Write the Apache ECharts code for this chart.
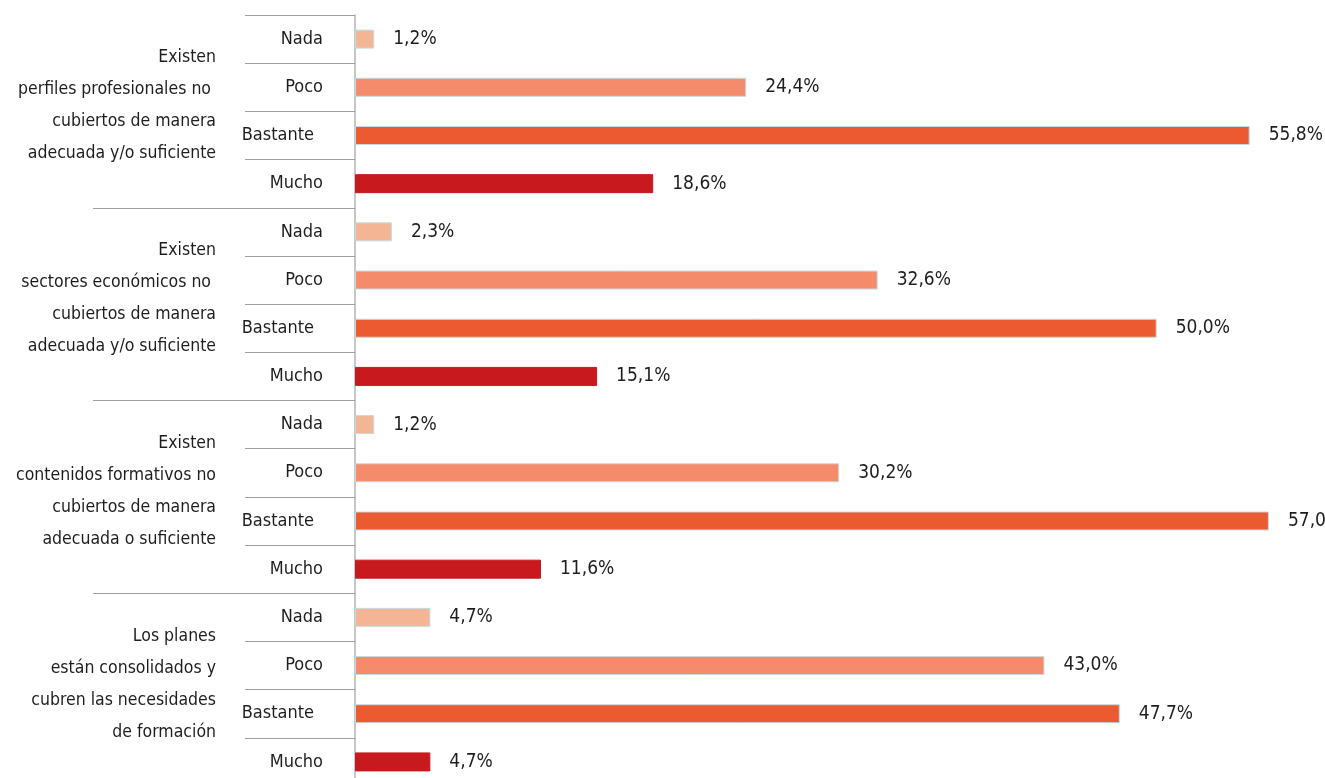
<!DOCTYPE html>
<html>
<head>
<meta charset="utf-8">
<script src="https://cdn.jsdelivr.net/npm/echarts@6/dist/echarts.min.js"></script>
<style>
html,body{margin:0;padding:0;background:#fff;}
#c{width:1325px;height:778px;}
</style>
</head>
<body>
<div id="c"></div>
<script>
// ---- data ----
const groups = [
  'Existen\nperfiles profesionales no \ncubiertos de manera\nadecuada y/o suficiente',
  'Existen\nsectores económicos no \ncubiertos de manera\nadecuada y/o suficiente',
  'Existen\ncontenidos formativos no\ncubiertos de manera\nadecuada o suficiente',
  'Los planes\nestán consolidados y\ncubren las necesidades\nde formación'
];
const levels = ['Nada', 'Poco', 'Bastante', 'Mucho'];
const perfiles   = [1.2, 24.4, 55.8, 18.6];
const sectores   = [2.3, 32.6, 50.0, 15.1];
const contenidos = [1.2, 30.2, 57.0, 11.6];
const planes     = [4.7, 43.0, 47.7, 4.7];
const levelColors = ['#f4b595', '#f48b6b', '#eb5a30', '#c8191f'];

const groupValues = [perfiles, sectores, contenidos, planes];
const FONT = "'Liberation Sans Narrow', 'DejaVu Sans Condensed', sans-serif";

const catData = [];
const barData = [];
groupValues.forEach((vals, gi) => {
  levels.forEach((lv, li) => {
    catData.push(gi + '|' + lv);
    barData.push({
      value: vals[li],
      itemStyle: {
        color: levelColors[li],
        borderColor: li < 3 ? '#c4dbe4' : levelColors[li],
        borderWidth: 1
      }
    });
  });
});

const chart = echarts.init(document.getElementById('c'));
chart.setOption({
  animation: false,
  grid: { left: 355, top: 15, height: 771, right: 8, outerBoundsMode: 'none', containLabel: false },
  xAxis: {
    type: 'value', min: 0, max: 60, show: false
  },
  yAxis: [
    {
      type: 'category',
      data: catData,
      inverse: true,
      axisLine: { show: true, lineStyle: { color: '#b4b4b4', width: 1.5 } },
      axisTick: { show: true, interval: 0, length: 110, lineStyle: { color: '#a0a0a0', width: 1.2 } },
      axisLabel: {
        interval: 0,
        margin: 32,
        fontFamily: FONT,
        fontSize: 18,
        color: '#1e1e1e',
        formatter: v => {
          const l = v.split('|')[1];
          return l === 'Bastante' ? '{b|' + l + '}' : l;
        },
        rich: { b: { fontFamily: FONT, fontSize: 18, color: '#1e1e1e', padding: [0, 9, 0, 0] } }
      }
    },
    {
      type: 'category',
      data: groups,
      inverse: true,
      position: 'left',
      axisLine: { show: false },
      axisTick: {
        show: true, length: 262,
        interval: (idx) => idx > 0,
        lineStyle: { color: '#a0a0a0', width: 1.2 }
      },
      axisLabel: {
        interval: 0,
        margin: 139,
        fontFamily: FONT,
        fontSize: 17.5,
        lineHeight: 32,
        color: '#1e1e1e',
        align: 'right',
        formatter: v => v + '\n{s| }',
        rich: { s: { fontSize: 2, lineHeight: 11 } }
      }
    }
  ],
  series: [{
    type: 'bar',
    yAxisIndex: 0,
    data: barData,
    barWidth: 19,
    label: {
      show: true,
      position: 'right',
      distance: 19,
      fontFamily: FONT,
      fontSize: 19,
      color: '#1e1e1e',
      formatter: p => p.value.toFixed(1).replace('.', ',') + '%'
    }
  }]
});
</script>
</body>
</html>
